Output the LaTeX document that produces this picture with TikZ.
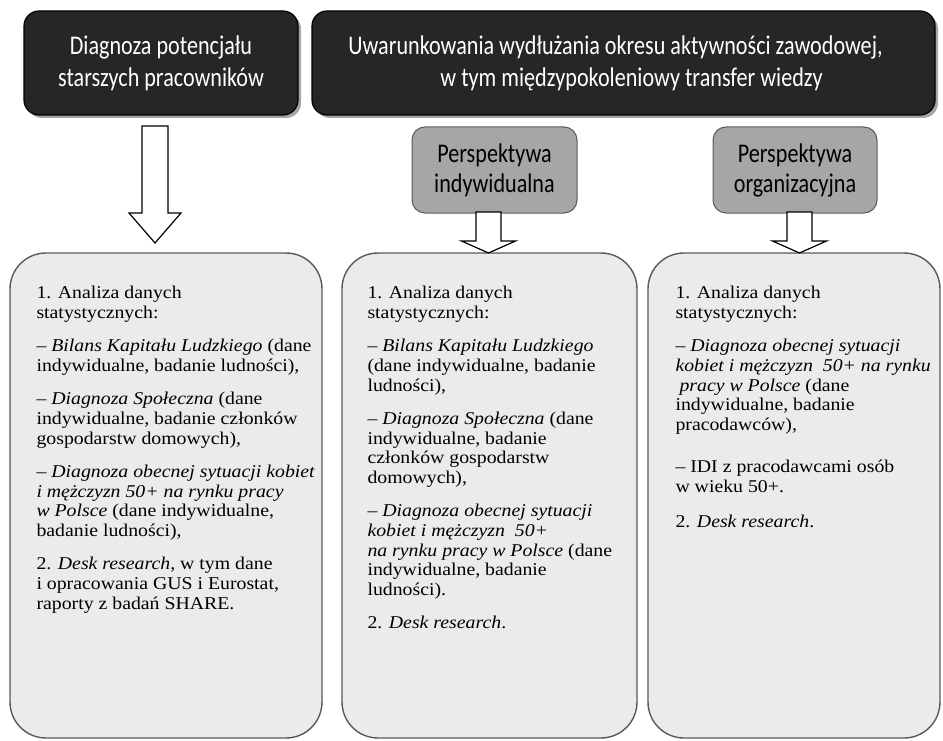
\documentclass[tikz,border=0pt]{standalone}
\usepackage{fontspec}
\setmainfont[FakeStretch=1.1]{Liberation Serif}
\newfontfamily\headfont[FakeStretch=0.82]{Carlito}
\usetikzlibrary{shadows,calc}
\definecolor{darkbox}{HTML}{262626}
\definecolor{midgray}{HTML}{A6A6A6}
\definecolor{lightbox}{HTML}{EBEBEB}
\definecolor{edgegray}{HTML}{595959}
\newcommand\blockarrow[6]{%
  \draw[blockarr] ({#1-#5},#2) -- ({#1+#5},#2) -- ({#1+#5},#3) -- ({#1+#6},#3)
    -- (#1,#4) -- ({#1-#6},#3) -- ({#1-#5},#3) -- cycle;}
\begin{document}
\begin{tikzpicture}[x=1pt,y=-1pt,
  headbox/.style={draw=black, line width=1.2pt, fill=darkbox, rounded corners=15pt,
    text=white, align=center, inner sep=0pt,
    font=\headfont\fontsize{27}{32}\selectfont,
    drop shadow={shadow xshift=3pt, shadow yshift=-3pt, fill=black!35, opacity=1}},
  perspbox/.style={draw=edgegray, line width=1pt, fill=midgray, rounded corners=13pt,
    text=black, align=center, inner sep=0pt,
    font=\headfont\fontsize{27}{30}\selectfont},
  listbox/.style={draw=edgegray, line width=1.4pt, fill=lightbox, rounded corners=36pt, inner sep=0pt},
  listtext/.style={anchor=north west, align=left, inner sep=0pt,
    font=\fontsize{18}{19.7}\selectfont},
  blockarr/.style={draw=black, line width=1.2pt, fill=white, line join=miter}
]
\useasboundingbox (0,0) rectangle (943,741);

% top dark boxes
\node[headbox, minimum width=274pt, minimum height=104pt] (h1) at (161,63)
  {Diagnoza potencjału\\starszych pracowników};
\node[headbox, minimum width=623pt, minimum height=104pt] (h2) at (623.5,63)
  {Uwarunkowania wydłużania okresu aktywności zawodowej,\hspace*{16pt}\\
   \hspace*{16pt}w tym międzypokoleniowy transfer wiedzy};

% perspective boxes
\node[perspbox, minimum width=165pt, minimum height=86pt] (pi) at (494.5,170)
  {Perspektywa\\indywidualna};
\node[perspbox, minimum width=164pt, minimum height=86pt] (po) at (795,170)
  {Perspektywa\\organizacyjna};

% bottom boxes
\node[listbox, minimum width=312pt, minimum height=485pt] (bA) at (166,495.5) {};
\node[listbox, minimum width=295pt, minimum height=485pt] (bB) at (489.5,495.5) {};
\node[listbox, minimum width=292pt, minimum height=485pt] (bC) at (794,495.5) {};

% block arrows (centre x, top, neck, tip, shaft half width, head half width)
\blockarrow{155}{126}{213}{243}{13}{26}
\blockarrow{488.5}{212}{241}{253}{12.5}{27}
\blockarrow{799.5}{212}{241}{253}{12.5}{27}

% texts
\node[listtext] (tA) at ($(bA.north west)+(27,34)$) {%
1. Analiza danych\\
statystycznych:\\[13.5pt]
– \textit{Bilans Kapitału Ludzkiego} (dane\\
indywidualne, badanie ludności),\\[13.5pt]
– \textit{Diagnoza Społeczna} (dane\\
indywidualne, badanie członków\\
gospodarstw domowych),\\[13.5pt]
\textit{– Diagnoza obecnej sytuacji kobiet}\\
\textit{i mężczyzn 50+ na rynku pracy}\\
\textit{w Polsce} (dane indywidualne,\\
badanie ludności),\\[13.5pt]
2. \textit{Desk research}, w tym dane\\
i opracowania GUS i Eurostat,\\
raporty z badań SHARE.};

\node[listtext] (tB) at ($(bB.north west)+(26,34)$) {%
1. Analiza danych\\
statystycznych:\\[13.5pt]
– \textit{Bilans Kapitału Ludzkiego}\\
(dane indywidualne, badanie\\
ludności),\\[13.5pt]
– \textit{Diagnoza Społeczna} (dane\\
indywidualne, badanie\\
członków gospodarstw\\
domowych),\\[13.5pt]
\textit{– Diagnoza obecnej sytuacji}\\
\textit{kobiet i mężczyzn\ \ 50+}\\
\textit{na rynku pracy w Polsce} (dane\\
indywidualne, badanie\\
ludności).\\[13.5pt]
2. \textit{Desk research}.};

\node[listtext] (tC) at ($(bC.north west)+(28,34)$) {%
1. Analiza danych\\
statystycznych:\\[13.5pt]
\textit{– Diagnoza obecnej sytuacji}\\
\textit{kobiet i mężczyzn\ \ 50+ na rynku}\\
\hspace*{4pt}\textit{pracy w Polsce} (dane\\
indywidualne, badanie\\
pracodawców),\\[22pt]
– IDI z pracodawcami osób\\
w wieku 50+.\\[16pt]
2. \textit{Desk research}.};
\end{tikzpicture}
\end{document}
